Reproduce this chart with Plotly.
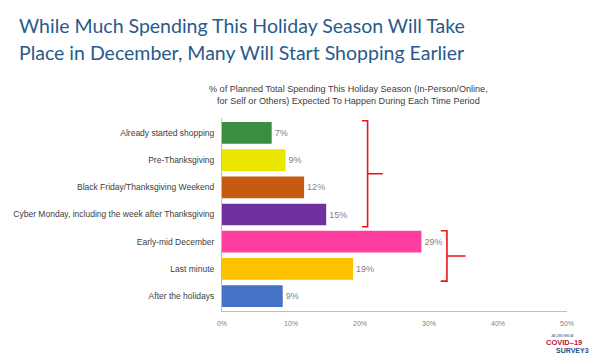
import plotly.graph_objects as go

categories = ["Already started shopping", "Pre-Thanksgiving", "Black Friday/Thanksgiving Weekend",
              "Cyber Monday, including the week after Thanksgiving", "Early-mid December",
              "Last minute", "After the holidays"]
values = [7.2, 9.2, 11.9, 15.1, 28.9, 19.0, 8.8]
labels = ["7%", "9%", "12%", "15%", "29%", "19%", "9%"]
colors = ["#3B8D3F", "#EAE600", "#C55A11", "#7030A0", "#FF3F9F", "#FFC000", "#4472C4"]
tick_vals = [0, 10, 20, 30, 40, 50]
tick_text = ["0%", "10%", "20%", "30%", "40%", "50%"]
title_lines = ["While Much Spending This Holiday Season Will Take",
               "Place in December, Many Will Start Shopping Earlier"]
subtitle = ("% of Planned Total Spending This Holiday Season (In-Person/Online,<br>"
            "for Self or Others) Expected To Happen During Each Time Period")

pos = list(range(len(categories)))

fig = go.Figure(go.Bar(
    x=values, y=pos, orientation="h", marker=dict(color=colors, line=dict(width=0)),
    width=0.8, text=labels, textposition="outside", cliponaxis=False,
    textfont=dict(size=9, color="#7F7F7F", family="Liberation Sans"),
))

def bracket(x0, x1, xt, ytop, ybot):
    ym = (ytop + ybot) / 2
    return (f"M {x0},{ytop} L {x1},{ytop} L {x1},{ym} L {xt},{ym} "
            f"M {x1},{ym} L {x1},{ybot} L {x0},{ybot}")

shapes = [
    dict(type="path", xref="x", yref="y", path=bracket(20.3, 21.1, 23.3, -0.45, 3.45),
         line=dict(color="#E8141B", width=1.6)),
    dict(type="path", xref="x", yref="y", path=bracket(31.7, 32.6, 35.3, 3.6, 5.45),
         line=dict(color="#E8141B", width=1.6)),
]

# the page body has an 8px margin, so the figure origin sits at (8, 8) of the window
OFF = 8
W, H = 603 - OFF, 358 - OFF
L, R, T, B = 222 - OFF, 36, 118 - OFF, 47
PW = W - L - R
PH = H - T - B

def px(x):
    return (x - OFF - L) / PW

def py(y):
    return (H - B - (y - OFF)) / PH

annotations = [
    dict(text=title_lines[0], x=px(17), y=py(25), xanchor="left", yanchor="middle",
         font=dict(size=19.5, color="#285A8C", family="Lato")),
    dict(text=title_lines[1], x=px(17), y=py(53), xanchor="left", yanchor="middle",
         font=dict(size=19.5, color="#285A8C", family="Lato")),
    dict(text=subtitle, x=px(348), y=py(95), xanchor="center", yanchor="middle", align="center",
         font=dict(size=9.1, color="#404040", family="Liberation Sans")),
    dict(text="<b>COVID–19</b>", x=px(584), y=py(342), xanchor="right", yanchor="middle",
         font=dict(size=7.5, color="#C0143C", family="Liberation Sans")),
    dict(text="<b>SURVEY3</b>", x=px(591), y=py(350), xanchor="right", yanchor="middle",
         font=dict(size=7, color="#2B4C8C", family="Liberation Sans")),
    dict(text="JACOBS MEDIA", x=px(562), y=py(336), xanchor="center", yanchor="middle",
         font=dict(size=3, color="#2B4C8C", family="Liberation Sans")),
]
for a in annotations:
    a.update(xref="paper", yref="paper", showarrow=False)

fig.update_layout(
    width=W, height=H, plot_bgcolor="white", paper_bgcolor="white",
    margin=dict(l=L, r=R, t=T, b=B, autoexpand=False),
    showlegend=False, shapes=shapes, annotations=annotations,
    xaxis=dict(range=[0, 50], tickvals=tick_vals, ticktext=tick_text, showgrid=False,
               showline=True, linecolor="#BFBFBF", linewidth=1, zeroline=False,
               ticklabelstandoff=6,
               tickfont=dict(size=7, color="#7F7F7F", family="Liberation Sans")),
    yaxis=dict(range=[6.55, -0.55], tickvals=pos, ticktext=categories, showgrid=False,
               showline=True, linecolor="#BFBFBF", linewidth=1, zeroline=False, ticks="",
               ticklabelstandoff=5,
               tickfont=dict(size=8.5, color="#404040", family="Liberation Sans")),
)

fig.write_html("out.html")
